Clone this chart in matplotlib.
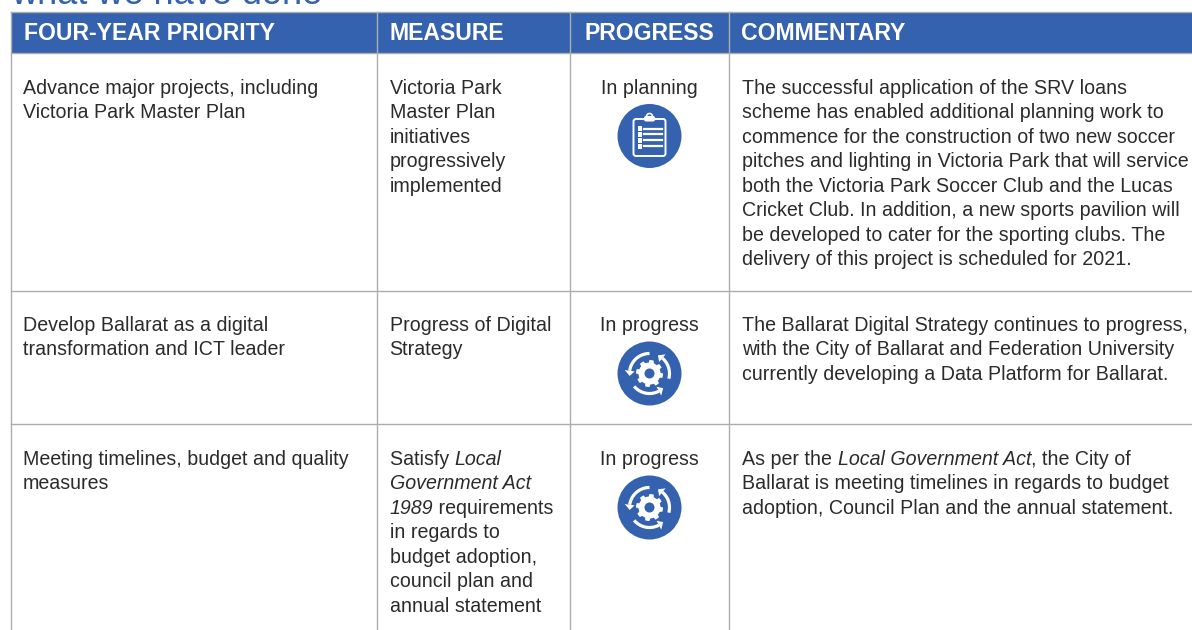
import matplotlib
matplotlib.use('Agg')
import matplotlib.pyplot as plt
from matplotlib.patches import Circle, Rectangle, FancyBboxPatch, Polygon
import numpy as np

BLUE = '#3562ae'
GRID = '#adadad'
INK = '#2b2b2b'
FONT = 'Liberation Sans'
BODY = 14.15

headers = ['FOUR-YEAR PRIORITY', 'MEASURE', 'PROGRESS', 'COMMENTARY']
col_edges = [11, 377, 570, 729]
row_edges = [53, 291, 424]
title = 'what we have done'

# each line is a list of (text, italic) pieces
priority = [
    ['Advance major projects, including', 'Victoria Park Master Plan'],
    ['Develop Ballarat as a digital', 'transformation and ICT leader'],
    ['Meeting timelines, budget and quality', 'measures'],
]
measure = [
    [[('Victoria Park', 0)], [('Master Plan', 0)], [('initiatives', 0)],
     [('progressively', 0)], [('implemented', 0)]],
    [[('Progress of Digital', 0)], [('Strategy', 0)]],
    [[('Satisfy ', 0), ('Local', 1)], [('Government Act', 1)],
     [('1989', 1), (' requirements', 0)], [('in regards to', 0)],
     [('budget adoption,', 0)], [('council plan and', 0)], [('annual statement', 0)]],
]
progress = ['In planning', 'In progress', 'In progress']
commentary = [
    [[('The successful application of the SRV loans', 0)],
     [('scheme has enabled additional planning work to', 0)],
     [('commence for the construction of two new soccer', 0)],
     [('pitches and lighting in Victoria Park that will service', 0)],
     [('both the Victoria Park Soccer Club and the Lucas', 0)],
     [('Cricket Club. In addition, a new sports pavilion will', 0)],
     [('be developed to cater for the sporting clubs. The', 0)],
     [('delivery of this project is scheduled for 2021.', 0)]],
    [[('The Ballarat Digital Strategy continues to progress,', 0)],
     [('with the City of Ballarat and Federation University', 0)],
     [('currently developing a Data Platform for Ballarat.', 0)]],
    [[('As per the ', 0), ('Local Government Act', 1), (', the City of', 0)],
     [('Ballarat is meeting timelines in regards to budget', 0)],
     [('adoption, Council Plan and the annual statement.', 0)]],
]
first_baseline = [94, 331, 465]
icon_y = [136, 373.5, 507.5]
line_gap = 24.45

fig = plt.figure(figsize=(11.92, 6.30), dpi=100)
ax = fig.add_axes([0, 0, 1, 1])
ax.set_xlim(0, 1192)
ax.set_ylim(630, 0)
ax.axis('off')


def put_line(x, y, pieces):
    # pieces are placed one after the other, so measure each one
    rend = fig.canvas.get_renderer()
    for txt, ital in pieces:
        t = ax.text(x, y, txt, fontsize=BODY, family=FONT, color=INK, va='baseline',
                    style='italic' if ital else 'normal')
        x += t.get_window_extent(rend).width


def clipboard(cx, cy):
    ax.add_patch(Circle((cx, cy), 32, fc=BLUE, ec='none'))
    ax.add_patch(FancyBboxPatch((cx - 16, cy - 17), 32, 37, boxstyle='round,pad=0,rounding_size=2.5',
                                fc='none', ec='white', lw=1.4))
    ax.add_patch(Circle((cx, cy - 19.5), 3, fc='none', ec='white', lw=1.2))
    ax.add_patch(FancyBboxPatch((cx - 5.5, cy - 20), 11, 5.5, boxstyle='round,pad=0,rounding_size=2',
                                fc='white', ec='none'))
    for dy in [-7.5, -1.7, 4.3, 10.3]:
        ax.add_patch(Rectangle((cx - 12, cy + dy - 2.2), 4.5, 4.4, fc='white', ec='none'))
        ax.plot([cx - 6, cx + 12], [cy + dy, cy + dy], color='white', lw=1.6)


def cycle(cx, cy):
    ax.add_patch(Circle((cx, cy), 32, fc=BLUE, ec='none'))
    # gear outline
    ang = np.linspace(0, 2 * np.pi, 97)[:-1]
    rad = np.where((np.arange(96) % 12) < 6, 13.5, 11)
    ax.add_patch(Polygon(np.c_[cx + rad * np.cos(ang), cy + rad * np.sin(ang)], fc='white', ec='none'))
    ax.add_patch(Circle((cx, cy), 5, fc=BLUE, ec='none'))
    # three arrows running anticlockwise round the gear
    for a0, a1 in [(-90, -172), (140, 62), (15, -50)]:
        th = np.radians(np.linspace(a0, a1, 30))
        ax.plot(cx + 20 * np.cos(th), cy + 20 * np.sin(th), color='white', lw=2.3, solid_capstyle='butt')
        e = np.radians(a1)
        tip = np.radians(a1 - 15)
        ax.add_patch(Polygon([[cx + 25 * np.cos(e), cy + 25 * np.sin(e)],
                              [cx + 15 * np.cos(e), cy + 15 * np.sin(e)],
                              [cx + 20 * np.cos(tip), cy + 20 * np.sin(tip)]], fc='white', ec='none'))


# cut-off heading above the table
ax.text(11, 3.5, title, fontsize=26, family=FONT, color=BLUE, va='baseline')

ax.add_patch(Rectangle((11, 12), 1192 - 11, 41, fc=BLUE, ec='none'))
for x0, h in zip(col_edges, headers):
    ax.text(x0 + 12.5 if x0 != 570 else 585, 40.5, h, fontsize=16.6, family=FONT, weight='bold',
            color='white', va='baseline')

for x0 in col_edges:
    ax.plot([x0, x0], [12, 630], color=GRID, lw=1)
ax.plot([11, 1192], [12, 12], color=GRID, lw=1)
for y0 in row_edges:
    ax.plot([11, 1192], [y0, y0], color=GRID, lw=1)

for i in range(3):
    y0 = first_baseline[i]
    for k, line in enumerate(priority[i]):
        put_line(23, y0 + k * line_gap, [(line, 0)])
    for k, line in enumerate(measure[i]):
        put_line(389.5, y0 + k * line_gap, line)
    for k, line in enumerate(commentary[i]):
        put_line(742.5, y0 + k * line_gap, line)
    ax.text(649.5, y0, progress[i], fontsize=BODY, family=FONT, color=INK, va='baseline', ha='center')
    if progress[i] == 'In planning':
        clipboard(649.5, icon_y[i])
    else:
        cycle(649.5, icon_y[i])

fig.savefig('out.png', dpi=100)
